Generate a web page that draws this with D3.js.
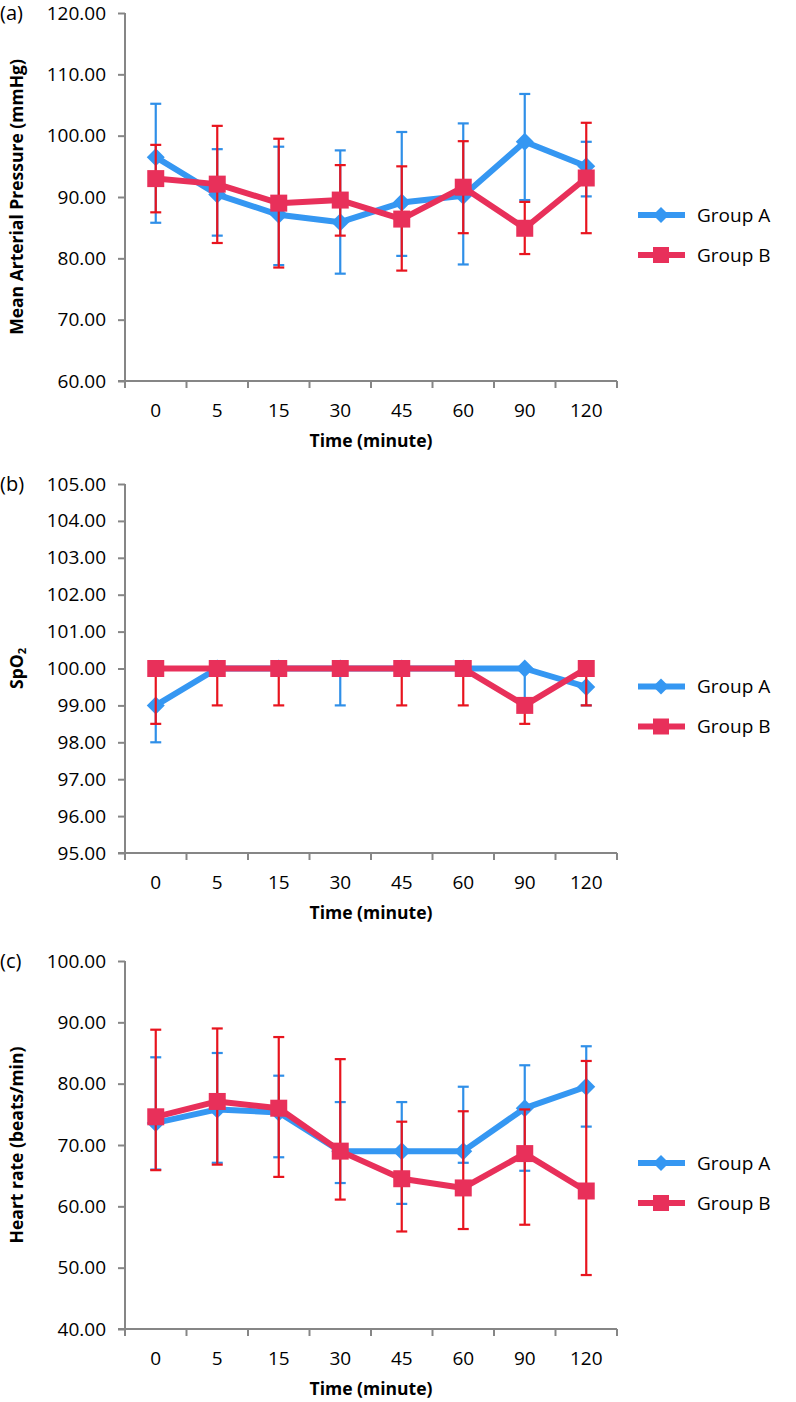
<!DOCTYPE html>
<html><head><meta charset="utf-8">
<script src="https://cdn.jsdelivr.net/npm/d3@7"></script>
<style>body{margin:0;background:#fff}svg{display:block}</style>
</head><body>
<script>
// ---------- DATA ----------
const categories = ["0","5","15","30","45","60","90","120"];
const seriesNames = ["Group A","Group B"];

// (a) Mean Arterial Pressure
const mapA_mean = [96.5, 90.4, 87.1, 85.9, 89.1, 90.2, 99.0, 95.0];
const mapA_high = [105.2, 97.8, 98.2, 97.6, 100.6, 102.0, 106.8, 99.0];
const mapA_low  = [85.8, 83.7, 78.9, 77.5, 80.4, 79.0, 89.5, 90.1];
const mapB_mean = [93.0, 92.1, 89.0, 89.5, 86.4, 91.6, 84.9, 93.1];
const mapB_high = [98.5, 101.6, 99.5, 95.2, 95.0, 99.1, 89.2, 102.1];
const mapB_low  = [87.5, 82.5, 78.5, 83.7, 78.0, 84.1, 80.7, 84.1];
const mapTicks  = [60,70,80,90,100,110,120];

// (b) SpO2
const spoA_mean = [99, 100, 100, 100, 100, 100, 100, 99.5];
const spoA_high = [99, 100, 100, 100, 100, 100, 100, 99.5];
const spoA_low  = [98, 100, 100, 99, 100, 100, 99, 99];
const spoB_mean = [100, 100, 100, 100, 100, 100, 99, 100];
const spoB_high = [100, 100, 100, 100, 100, 100, 99, 100];
const spoB_low  = [98.5, 99, 99, 100, 99, 99, 98.5, 99];
const spoTicks  = [95,96,97,98,99,100,101,102,103,104,105];

// (c) Heart rate
const hrA_mean = [73.6, 75.8, 75.3, 69.0, 69.0, 69.0, 76.0, 79.5];
const hrA_high = [84.3, 85.0, 81.3, 77.0, 77.0, 79.5, 83.0, 86.1];
const hrA_low  = [66.0, 67.1, 68.0, 63.8, 60.4, 67.1, 65.8, 73.0];
const hrB_mean = [74.6, 77.1, 76.0, 69.0, 64.5, 63.0, 68.6, 62.5];
const hrB_high = [88.8, 89.0, 87.6, 84.0, 73.8, 75.5, 75.8, 83.7];
const hrB_low  = [65.9, 66.8, 64.8, 61.1, 55.9, 56.3, 57.0, 48.8];
const hrTicks  = [40,50,60,70,80,90,100];

// ---------- LAYOUT / STYLE ----------
const W = 796, H = 1402;
const X0 = 125, X1 = 617;
const FONT = "'Open Sans', 'DejaVu Sans', sans-serif";
const AXIS = "#868686";
const colA = "#3597f2", colAerr = "#2f8fe8";
const colB = "#e8305a", colBerr = "#e8141e";

const panels = [
  {tag:"(a)", title:"Mean Arterial Pressure (mmHg)", top:13, bottom:381, ticks:mapTicks,
   A:{mean:mapA_mean, high:mapA_high, low:mapA_low}, B:{mean:mapB_mean, high:mapB_high, low:mapB_low}},
  {tag:"(b)", title:"SpO2", top:484, bottom:853, ticks:spoTicks,
   A:{mean:spoA_mean, high:spoA_high, low:spoA_low}, B:{mean:spoB_mean, high:spoB_high, low:spoB_low}},
  {tag:"(c)", title:"Heart rate (beats/min)", top:961, bottom:1329, ticks:hrTicks,
   A:{mean:hrA_mean, high:hrA_high, low:hrA_low}, B:{mean:hrB_mean, high:hrB_high, low:hrB_low}}
];

const svg = d3.select("body").append("svg").attr("width", W).attr("height", H)
  .style("font-family", FONT);

const x = d3.scaleBand().domain(categories).range([X0, X1]).paddingInner(0).paddingOuter(0);
const cx = c => x(c) + x.bandwidth()/2;

function diamondPath(r){ return `M0,${-r}L${r},0L0,${r}L${-r},0Z`; }
function squarePath(h){ return `M${-h},${-h}H${h}V${h}H${-h}Z`; }

panels.forEach(p => {
  const g = svg.append("g");
  const ext = d3.extent(p.ticks);
  const y = d3.scaleLinear().domain(ext).range([p.bottom, p.top]);

  // y axis
  const ya = g.append("g").attr("transform", `translate(${X0},0)`)
    .call(d3.axisLeft(y).tickValues(p.ticks).tickFormat(d3.format(".2f")).tickSize(7).tickPadding(12).tickSizeOuter(0));
  ya.select(".domain").attr("stroke", AXIS).attr("stroke-width", 2).attr("d", `M0,${p.top}V${p.bottom+7}`);
  ya.selectAll(".tick line").attr("stroke", AXIS).attr("stroke-width", 2);
  ya.selectAll(".tick text").attr("fill", "#000").style("font-size", "19px").style("font-family", FONT);

  // x axis (Excel-style ticks between categories)
  const xa = g.append("g").attr("transform", `translate(0,${p.bottom})`)
    .call(d3.axisBottom(x).tickSize(0).tickPadding(0).tickSizeOuter(0));
  xa.select(".domain").attr("stroke", AXIS).attr("stroke-width", 2).attr("d", `M${X0-7},0H${X1}`);
  xa.selectAll(".tick text").attr("fill", "#000").attr("y", 29).attr("dy", "0.35em")
    .style("font-size", "19px").style("font-family", FONT);
  xa.selectAll(".boundary").data(d3.range(categories.length + 1)).enter().append("line")
    .attr("class", "boundary")
    .attr("x1", i => X0 + i * x.step()).attr("x2", i => X0 + i * x.step())
    .attr("y1", 0).attr("y2", 7).attr("stroke", AXIS).attr("stroke-width", 2);

  // titles
  g.append("text").attr("x", (X0 + X1)/2).attr("y", p.bottom + 60).attr("dy", "0.35em")
    .attr("text-anchor", "middle").style("font-size", "17.5px").style("font-weight", "bold")
    .text("Time (minute)");
  const yt = g.append("text").attr("transform", `translate(17,${(p.top + p.bottom)/2}) rotate(-90)`)
    .attr("text-anchor", "middle").attr("dy", "0.35em").style("font-size", "17.5px").style("font-weight", "bold");
  if (p.title === "SpO2") {
    yt.append("tspan").text("SpO");
    yt.append("tspan").text("2").attr("baseline-shift", "-25%").style("font-size", "11px");
  } else yt.text(p.title);
  g.append("text").attr("x", 0).attr("y", p.top).attr("dy", "0.35em").style("font-size", "20px").text(p.tag);

  // series
  const line = d3.line().x((d, i) => cx(categories[i])).y(d => y(d));
  [["A", colA, colAerr], ["B", colB, colBerr]].forEach(([k, col, ecol]) => {
    const s = p[k];
    const eg = g.append("g");
    categories.forEach((c, i) => {
      const xc = cx(c);
      const parts = [];
      if (s.high[i] > s.mean[i]) parts.push(s.high[i]);
      if (s.low[i] < s.mean[i]) parts.push(s.low[i]);
      parts.forEach(v => {
        eg.append("line").attr("x1", xc).attr("x2", xc).attr("y1", y(s.mean[i])).attr("y2", y(v))
          .attr("stroke", ecol).attr("stroke-width", 2.2);
        eg.append("line").attr("x1", xc - 5.5).attr("x2", xc + 5.5).attr("y1", y(v)).attr("y2", y(v))
          .attr("stroke", ecol).attr("stroke-width", 2.2);
      });
    });
    g.append("path").datum(s.mean).attr("d", line).attr("fill", "none")
      .attr("stroke", col).attr("stroke-width", 6).attr("stroke-linejoin", "round");
    g.selectAll(null).data(s.mean).enter().append("path")
      .attr("transform", (d, i) => `translate(${cx(categories[i])},${y(d)})`)
      .attr("d", k === "A" ? diamondPath(9) : squarePath(8.5))
      .attr("fill", col);
  });

  // legend
  const mid = (p.top + p.bottom)/2;
  [["A", colA, 18], ["B", colB, 58]].forEach(([k, col, off], j) => {
    const ly = mid + off;
    const lg = g.append("g");
    lg.append("line").attr("x1", 638).attr("x2", 685).attr("y1", ly).attr("y2", ly)
      .attr("stroke", col).attr("stroke-width", 6);
    lg.append("path").attr("transform", `translate(661,${ly})`)
      .attr("d", k === "A" ? diamondPath(8) : squarePath(8)).attr("fill", col);
    lg.append("text").attr("x", 697).attr("y", ly).attr("dy", "0.35em").style("font-size", "19px")
      .text(seriesNames[j]);
  });
});
</script>
</body></html>
